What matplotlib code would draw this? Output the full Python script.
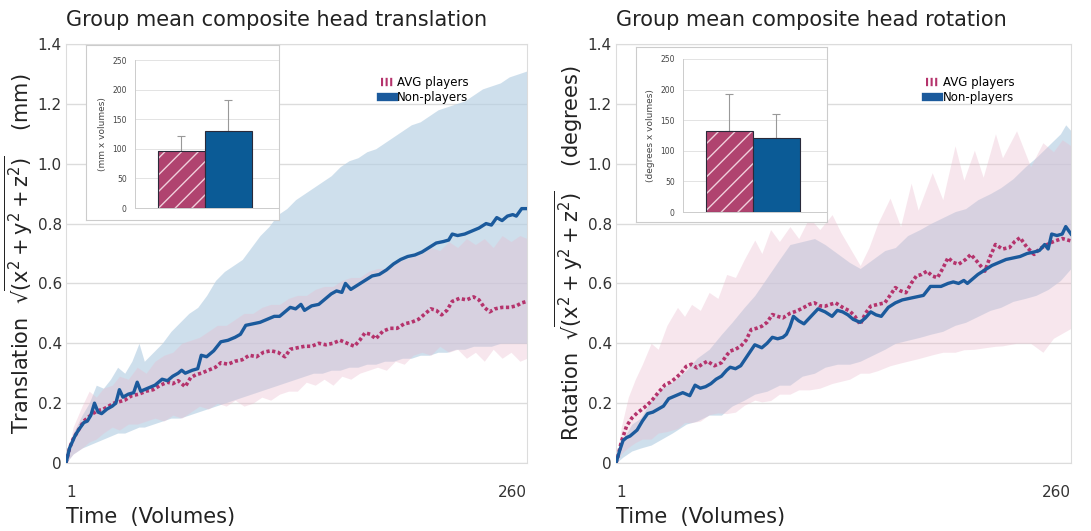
import matplotlib
matplotlib.use("Agg")
import numpy as np
import matplotlib.pyplot as plt
from matplotlib.lines import Line2D

plt.rcParams['font.family'] = ['DejaVu Sans']
plt.rcParams['mathtext.fontset'] = 'dejavusans'
plt.rcParams['mathtext.default'] = 'regular'
plt.rcParams['hatch.linewidth'] = 1.0

PINK = '#b5336c'
BLUE = '#1b5a9c'
BAR_PINK = '#b0436f'
BAR_BLUE = '#0b5b96'
GRID = '#dcdcdc'

# ---------------- translation (left) ----------------
tr_np_x = [1, 3, 6, 8, 11, 13, 15, 17, 19, 21, 24, 27, 29, 31, 33, 36, 39, 41, 43, 47, 51, 55, 58,
           61, 64, 66, 68, 72, 75, 77, 80, 84, 88, 92, 96, 99, 102, 106, 110, 114, 118, 121, 124,
           127, 130, 133, 135, 139, 143, 146, 150, 153, 156, 158, 161, 165, 169, 173, 177, 181,
           185, 189, 193, 197, 201, 205, 209, 213, 216, 218, 221, 225, 229, 233, 237, 240, 243,
           246, 249, 252, 254, 257, 260]
tr_np_y = [0.0, 0.05, 0.09, 0.11, 0.135, 0.14, 0.16, 0.20, 0.17, 0.165, 0.18, 0.19, 0.20, 0.245,
           0.22, 0.23, 0.235, 0.27, 0.24, 0.25, 0.26, 0.28, 0.275, 0.29, 0.30, 0.31, 0.30, 0.31,
           0.315, 0.36, 0.355, 0.375, 0.405, 0.41, 0.42, 0.43, 0.46, 0.465, 0.47, 0.48, 0.49, 0.49,
           0.505, 0.52, 0.515, 0.53, 0.51, 0.525, 0.53, 0.545, 0.565, 0.575, 0.57, 0.60, 0.58,
           0.595, 0.61, 0.625, 0.63, 0.645, 0.665, 0.68, 0.69, 0.695, 0.705, 0.72, 0.735, 0.74,
           0.745, 0.765, 0.76, 0.765, 0.775, 0.785, 0.80, 0.795, 0.82, 0.81, 0.825, 0.83, 0.825,
           0.85, 0.85]

tr_avg_x = [1, 3, 5, 7, 9, 11, 13, 16, 19, 22, 25, 28, 31, 34, 38, 42, 46, 50, 54, 58, 61, 64, 66,
            68, 71, 74, 77, 81, 85, 88, 92, 96, 100, 104, 108, 112, 116, 120, 124, 127, 131, 135,
            139, 143, 147, 151, 155, 159, 163, 166, 169, 172, 175, 179, 183, 187, 191, 195, 199,
            203, 206, 209, 212, 215, 218, 222, 226, 230, 233, 236, 239, 242, 246, 250, 254, 257, 260]
tr_avg_y = [0.0, 0.05, 0.08, 0.10, 0.12, 0.14, 0.15, 0.165, 0.175, 0.18, 0.19, 0.20, 0.205, 0.21,
            0.225, 0.23, 0.24, 0.245, 0.26, 0.27, 0.265, 0.275, 0.265, 0.255, 0.285, 0.295, 0.30,
            0.31, 0.32, 0.335, 0.33, 0.34, 0.345, 0.36, 0.355, 0.37, 0.375, 0.37, 0.355, 0.38,
            0.385, 0.39, 0.39, 0.40, 0.395, 0.40, 0.41, 0.40, 0.39, 0.41, 0.435, 0.43, 0.415, 0.44,
            0.45, 0.45, 0.465, 0.47, 0.48, 0.50, 0.515, 0.51, 0.495, 0.51, 0.54, 0.55, 0.545, 0.555,
            0.545, 0.52, 0.505, 0.515, 0.52, 0.52, 0.525, 0.535, 0.54]

tr_np_band_x = [1, 5, 10, 14, 18, 22, 26, 30, 34, 38, 42, 45, 50, 55, 60, 65, 70, 75, 80, 85, 90,
                95, 100, 105, 110, 115, 120, 125, 130, 135, 140, 145, 150, 155, 160, 165, 170, 175,
                180, 185, 190, 195, 200, 205, 210, 215, 220, 225, 230, 235, 240, 245, 250, 255, 260]
tr_np_hi = [0.0, 0.10, 0.16, 0.20, 0.26, 0.25, 0.28, 0.32, 0.30, 0.34, 0.40, 0.34, 0.37, 0.40,
            0.44, 0.47, 0.50, 0.52, 0.56, 0.61, 0.64, 0.66, 0.68, 0.72, 0.76, 0.79, 0.83, 0.85,
            0.88, 0.90, 0.92, 0.94, 0.96, 0.99, 1.01, 1.02, 1.04, 1.05, 1.07, 1.09, 1.11, 1.13,
            1.14, 1.16, 1.18, 1.19, 1.20, 1.21, 1.23, 1.25, 1.26, 1.27, 1.29, 1.30, 1.31]
tr_np_lo = [0.0, 0.03, 0.05, 0.06, 0.07, 0.08, 0.09, 0.10, 0.10, 0.11, 0.12, 0.12, 0.13, 0.14,
            0.15, 0.15, 0.16, 0.17, 0.18, 0.19, 0.20, 0.21, 0.22, 0.23, 0.24, 0.25, 0.26, 0.27,
            0.28, 0.29, 0.30, 0.30, 0.31, 0.31, 0.32, 0.32, 0.33, 0.33, 0.34, 0.34, 0.35, 0.35,
            0.36, 0.36, 0.37, 0.37, 0.38, 0.38, 0.39, 0.39, 0.39, 0.40, 0.40, 0.40, 0.40]

tr_avg_band_x = [1, 5, 10, 14, 18, 22, 27, 31, 36, 41, 46, 51, 56, 61, 66, 71, 76, 81, 86, 91, 96,
                 101, 106, 111, 116, 121, 126, 131, 136, 141, 146, 151, 156, 161, 166, 171, 176,
                 181, 186, 191, 196, 201, 206, 211, 216, 221, 226, 231, 236, 241, 246, 251, 256, 260]
tr_avg_hi = [0.0, 0.12, 0.19, 0.24, 0.22, 0.25, 0.26, 0.29, 0.28, 0.32, 0.30, 0.34, 0.36, 0.37,
             0.40, 0.41, 0.42, 0.44, 0.46, 0.46, 0.48, 0.50, 0.50, 0.52, 0.53, 0.53, 0.55, 0.56,
             0.56, 0.58, 0.59, 0.59, 0.61, 0.62, 0.62, 0.64, 0.65, 0.65, 0.67, 0.68, 0.69, 0.70,
             0.72, 0.71, 0.74, 0.72, 0.75, 0.73, 0.75, 0.72, 0.76, 0.74, 0.76, 0.75]
tr_avg_lo = [0.0, 0.03, 0.05, 0.07, 0.08, 0.10, 0.12, 0.11, 0.13, 0.13, 0.14, 0.15, 0.14, 0.16,
             0.15, 0.17, 0.19, 0.18, 0.20, 0.19, 0.21, 0.19, 0.20, 0.22, 0.21, 0.23, 0.24, 0.24,
             0.27, 0.26, 0.28, 0.26, 0.29, 0.28, 0.30, 0.31, 0.32, 0.31, 0.34, 0.33, 0.36, 0.37,
             0.36, 0.39, 0.37, 0.38, 0.35, 0.37, 0.34, 0.38, 0.35, 0.37, 0.34, 0.35]

# ---------------- rotation (right) ----------------
ro_np_x = [1, 3, 5, 7, 9, 11, 13, 16, 19, 22, 25, 28, 31, 35, 39, 43, 46, 49, 52, 55, 58, 61, 64,
           66, 69, 72, 76, 80, 84, 87, 90, 93, 96, 98, 100, 102, 105, 108, 112, 116, 120, 124, 127,
           130, 133, 136, 140, 143, 146, 149, 152, 156, 160, 164, 168, 172, 176, 178, 180, 183,
           186, 190, 193, 196, 199, 201, 204, 207, 211, 215, 219, 223, 227, 231, 235, 239, 242,
           245, 247, 249, 252, 255, 257, 260]
ro_np_y = [0.0, 0.04, 0.075, 0.085, 0.09, 0.10, 0.11, 0.14, 0.165, 0.17, 0.18, 0.19, 0.215, 0.225,
           0.235, 0.225, 0.26, 0.25, 0.255, 0.265, 0.28, 0.29, 0.31, 0.32, 0.315, 0.325, 0.36,
           0.395, 0.385, 0.40, 0.42, 0.415, 0.42, 0.43, 0.455, 0.49, 0.475, 0.465, 0.49, 0.515,
           0.505, 0.49, 0.51, 0.505, 0.495, 0.48, 0.47, 0.485, 0.505, 0.495, 0.49, 0.52, 0.535,
           0.545, 0.55, 0.555, 0.56, 0.575, 0.59, 0.59, 0.59, 0.60, 0.605, 0.60, 0.61, 0.60,
           0.615, 0.63, 0.645, 0.66, 0.67, 0.68, 0.685, 0.69, 0.70, 0.705, 0.71, 0.73, 0.715,
           0.765, 0.76, 0.765, 0.79, 0.765]

ro_avg_x = [1, 2, 4, 7, 10, 13, 17, 21, 25, 29, 32, 35, 38, 41, 44, 47, 50, 53, 57, 61, 64, 66,
            69, 72, 75, 78, 81, 84, 87, 90, 93, 96, 100, 104, 108, 111, 114, 117, 120, 123, 126,
            130, 134, 137, 140, 143, 146, 150, 154, 157, 160, 163, 166, 169, 172, 175, 178, 181,
            184, 187, 190, 193, 196, 200, 203, 207, 211, 214, 217, 221, 225, 228, 231, 235, 239,
            242, 245, 248, 251, 255, 260]
ro_avg_y = [0.0, 0.02, 0.07, 0.123, 0.15, 0.167, 0.185, 0.206, 0.235, 0.262, 0.27, 0.284, 0.30,
            0.323, 0.33, 0.318, 0.33, 0.34, 0.325, 0.335, 0.36, 0.374, 0.38, 0.39, 0.41, 0.446,
            0.45, 0.457, 0.47, 0.496, 0.49, 0.485, 0.50, 0.508, 0.52, 0.53, 0.535, 0.525, 0.524,
            0.53, 0.535, 0.52, 0.508, 0.49, 0.463, 0.50, 0.524, 0.53, 0.535, 0.56, 0.586, 0.575,
            0.569, 0.60, 0.625, 0.63, 0.641, 0.625, 0.619, 0.65, 0.686, 0.67, 0.664, 0.68, 0.697,
            0.67, 0.641, 0.69, 0.73, 0.715, 0.72, 0.74, 0.753, 0.72, 0.697, 0.715, 0.725, 0.735,
            0.742, 0.75, 0.742]

ro_np_band_x = [1, 5, 10, 15, 21, 27, 33, 41, 47, 54, 61, 67, 74, 80, 87, 94, 100, 107, 114, 120,
                127, 134, 140, 147, 154, 160, 167, 174, 180, 187, 194, 200, 207, 214, 220, 227,
                234, 240, 247, 254, 257, 260]
ro_np_hi = [0.0, 0.08, 0.13, 0.15, 0.21, 0.25, 0.27, 0.31, 0.35, 0.38, 0.43, 0.47, 0.52, 0.56,
            0.62, 0.68, 0.73, 0.74, 0.75, 0.73, 0.70, 0.67, 0.65, 0.68, 0.71, 0.72, 0.76, 0.78,
            0.80, 0.82, 0.84, 0.85, 0.88, 0.90, 0.92, 0.95, 0.99, 1.02, 1.06, 1.10, 1.13, 1.11]
ro_np_lo = [0.0, 0.02, 0.04, 0.05, 0.06, 0.08, 0.10, 0.13, 0.14, 0.16, 0.16, 0.19, 0.21, 0.23,
            0.24, 0.26, 0.26, 0.29, 0.30, 0.32, 0.33, 0.33, 0.34, 0.36, 0.38, 0.40, 0.41, 0.42,
            0.43, 0.44, 0.46, 0.47, 0.49, 0.51, 0.52, 0.54, 0.55, 0.56, 0.58, 0.61, 0.63, 0.65]

ro_avg_band_x = [1, 4, 8, 12, 16, 21, 25, 30, 36, 40, 44, 49, 54, 59, 64, 69, 74, 80, 84, 89, 94,
                 100, 105, 111, 117, 124, 129, 134, 140, 145, 150, 157, 163, 169, 173, 181, 187,
                 194, 199, 205, 210, 217, 221, 229, 237, 244, 250, 255, 260]
ro_avg_hi = [0.0, 0.12, 0.22, 0.28, 0.33, 0.40, 0.38, 0.46, 0.52, 0.49, 0.53, 0.51, 0.57, 0.55,
             0.63, 0.62, 0.68, 0.745, 0.70, 0.78, 0.74, 0.79, 0.75, 0.82, 0.78, 0.83, 0.77, 0.72,
             0.66, 0.72, 0.80, 0.885, 0.79, 0.935, 0.845, 0.97, 0.88, 1.06, 0.945, 1.045, 0.955,
             1.10, 1.02, 1.11, 0.99, 1.07, 1.04, 1.08, 1.06]
ro_avg_band_lo_x = [1, 5, 10, 15, 21, 27, 33, 41, 47, 53, 61, 67, 73, 80, 87, 94, 100, 107, 114,
                    120, 127, 134, 140, 147, 154, 160, 167, 174, 180, 187, 194, 200, 207, 214,
                    220, 227, 234, 240, 244, 248, 254, 260]
ro_avg_lo = [0.0, 0.04, 0.06, 0.08, 0.08, 0.11, 0.10, 0.14, 0.13, 0.16, 0.17, 0.16, 0.19, 0.21,
             0.20, 0.23, 0.23, 0.25, 0.24, 0.26, 0.27, 0.28, 0.30, 0.30, 0.32, 0.33, 0.34, 0.35,
             0.36, 0.37, 0.37, 0.38, 0.38, 0.39, 0.39, 0.40, 0.40, 0.40, 0.37, 0.41, 0.43, 0.45]

# ---------------- inset bars ----------------
groups = ['AVG players', 'Non-players']
tr_bar = [96, 130]
tr_err = [26, 52]
ro_bar = [132, 121]
ro_err = [61, 39]

fig = plt.figure(figsize=(10.91, 5.31), dpi=100)
W, H = 1091, 531


def px_axes(x0, y0, x1, y1, **kw):
    return fig.add_axes([x0 / W, 1 - y1 / H, (x1 - x0) / W, (y1 - y0) / H], **kw)


def main_panel(ax, title, ylabel, np_x, np_y, avg_x, avg_y,
               np_bx, np_hi, np_lo, avg_bx, avg_hi, avg_lo_x, avg_lo):
    ax.fill_between(np_bx, np_lo, np_hi, color='#b5cfe3', alpha=0.65, lw=0, zorder=1)
    # lower edge read at other positions -> put it on the upper edge's x grid
    lo = np.interp(avg_bx, avg_lo_x, avg_lo)
    ax.fill_between(avg_bx, lo, avg_hi, color='#eab9cc', alpha=0.35, lw=0, zorder=1.1)
    ax.plot(avg_x, avg_y, color=PINK, lw=2.6, linestyle=(0, (0.9, 0.7)), zorder=3)
    ax.plot(np_x, np_y, color=BLUE, lw=2.4, zorder=4, solid_joinstyle='round')
    ax.set_xlim(1, 260)
    ax.set_ylim(0, 1.4)
    ax.set_yticks([0, 0.2, 0.4, 0.6, 0.8, 1.0, 1.2, 1.4])
    ax.set_yticklabels(['0', '0.2', '0.4', '0.6', '0.8', '1.0', '1.2', '1.4'])
    ax.set_xticks([1, 260])
    ax.set_xticklabels(['1', '260'])
    xl = ax.get_xticklabels()
    xl[0].set_ha('left')
    xl[1].set_ha('right')
    ax.tick_params(axis='both', length=0, labelsize=11, colors='#333333')
    ax.tick_params(axis='x', pad=16)
    ax.tick_params(axis='y', pad=3)
    ax.grid(axis='y', color=GRID, lw=1)
    ax.set_axisbelow(True)
    for s in ax.spines.values():
        s.set_color(GRID)
    ax.set_title(title, loc='left', fontsize=15, color='#222222', pad=13)
    ax.set_xlabel('Time  (Volumes)', loc='left', fontsize=15, color='#222222', labelpad=5)
    ax.set_ylabel(ylabel, fontsize=15, color='#222222', labelpad=1)
    handles = [Line2D([], [], color=PINK, lw=6, linestyle=(0, (0.25, 0.3))),
               Line2D([], [], color=BLUE, lw=6)]
    ax.legend(handles, groups, loc='upper left', bbox_to_anchor=(0.672, 0.935), frameon=False,
              fontsize=8.5, handlelength=1.1, handletextpad=0.3, labelspacing=0.15,
              borderaxespad=0)


def inset(box_px, in_px, vals, errs, ylabel):
    box = px_axes(*box_px)
    box.set_xticks([])
    box.set_yticks([])
    for s in box.spines.values():
        s.set_color('#cccccc')
    box.set_zorder(5)
    ax = px_axes(*in_px)
    ax.set_zorder(6)
    ax.patch.set_alpha(0)
    ax.bar([0], [vals[0]], width=1, color=BAR_PINK, edgecolor='#f0d0dc', hatch='//', lw=0, zorder=2)
    ax.bar([0, 1], vals, width=1, color=['none', BAR_BLUE], edgecolor='#2a2a3a', lw=0.8, zorder=3)
    ax.errorbar([0, 1], vals, yerr=[[0, 0], errs], fmt='none', ecolor='#999999', elinewidth=0.8,
                capsize=3, capthick=0.8, zorder=1)
    ax.set_xlim(-0.99, 2.08)
    ax.set_ylim(0, 250)
    ax.set_yticks([0, 50, 100, 150, 200, 250])
    ax.set_xticks([])
    ax.grid(axis='y', color='#e3e3e3', lw=0.7)
    ax.set_axisbelow(True)
    for k in ['top', 'right']:
        ax.spines[k].set_visible(False)
    for k in ['left', 'bottom']:
        ax.spines[k].set_color('#cccccc')
        ax.spines[k].set_linewidth(0.7)
    ax.tick_params(axis='y', length=0, labelsize=5.5, colors='#444444', pad=6)
    ax.set_ylabel(ylabel, fontsize=6.5, color='#444444', labelpad=4)


axL = px_axes(66, 44, 527, 463)
main_panel(axL, 'Group mean composite head translation',
           r'Translation  √$\overline{(x^2 + y^2 + z^2)}$    (mm)',
           tr_np_x, tr_np_y, tr_avg_x, tr_avg_y,
           tr_np_band_x, tr_np_hi, tr_np_lo, tr_avg_band_x, tr_avg_hi, tr_avg_band_x, tr_avg_lo)

axR = px_axes(616, 44, 1071, 463)
main_panel(axR, 'Group mean composite head rotation',
           r'Rotation  √$\overline{(x^2 + y^2 + z^2)}$    (degrees)',
           ro_np_x, ro_np_y, ro_avg_x, ro_avg_y,
           ro_np_band_x, ro_np_hi, ro_np_lo, ro_avg_band_x, ro_avg_hi, ro_avg_band_lo_x, ro_avg_lo)

inset((86, 45, 279, 220), (135, 60, 279, 208), tr_bar, tr_err, '(mm x volumes)')
inset((636, 47, 827, 222), (683, 59, 827, 212), ro_bar, ro_err, '(degrees x volumes)')

fig.savefig('out.png', dpi=100)
